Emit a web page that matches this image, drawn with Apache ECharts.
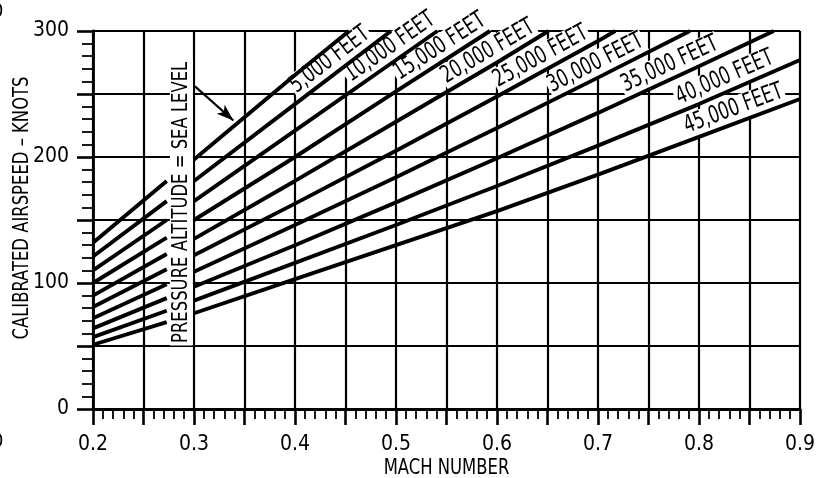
<!DOCTYPE html>
<html>
<head>
<meta charset="utf-8">
<script src="https://cdn.jsdelivr.net/npm/echarts@6/dist/echarts.min.js"></script>
<style>
html,body{margin:0;padding:0;background:#fff;}
#c{width:824px;height:478px;}
</style>
</head>
<body>
<div id="c"></div>
<script>
// ---- data (Mach number, calibrated airspeed in knots) ----
const altitudeNames = ['SEA LEVEL', '5,000 FEET', '10,000 FEET', '15,000 FEET', '20,000 FEET',
  '25,000 FEET', '30,000 FEET', '35,000 FEET', '40,000 FEET', '45,000 FEET'];
const seaLevel = [[0.2,132],[0.273,181],[0.3,198],[0.4,265],[0.4535,300]];
const ft5000  = [[0.2,121],[0.273,165],[0.3,181],[0.4,242],[0.495,300]];
const ft10000 = [[0.2,110],[0.273,150],[0.3,165],[0.4,221],[0.5,277],[0.541,300]];
const ft15000 = [[0.2,100],[0.273,136],[0.3,150],[0.4,200],[0.5,252],[0.593,300]];
const ft20000 = [[0.2,90],[0.273,123],[0.3,135],[0.4,181],[0.5,228],[0.6,275],[0.651,300]];
const ft25000 = [[0.2,81],[0.273,111],[0.3,122],[0.4,163],[0.5,205],[0.6,248],[0.7,292],[0.717,300]];
const ft30000 = [[0.2,72],[0.273,99],[0.3,109],[0.4,146],[0.5,184],[0.6,223],[0.7,263],[0.791,300]];
const ft35000 = [[0.2,64],[0.273,88],[0.3,97],[0.4,130],[0.5,164],[0.6,199],[0.7,235],[0.8,272],[0.874,300]];
const ft40000 = [[0.2,57],[0.273,78],[0.3,86],[0.4,116],[0.5,146],[0.6,177],[0.7,209],[0.8,242],[0.9,277]];
const ft45000 = [[0.2,51],[0.273,69],[0.3,76],[0.4,103],[0.5,130],[0.6,157],[0.7,186],[0.8,216],[0.9,246]];
const curves = [seaLevel, ft5000, ft10000, ft15000, ft20000, ft25000, ft30000, ft35000, ft40000, ft45000];
// Mach number where each altitude label sits along its curve (null = no label)
const labelMach = [null, 0.443, 0.502, 0.551, 0.598, 0.650, 0.704, 0.777, 0.831, 0.839];
// gap in the curves where the vertical caption sits
const gapMach = 0.2865;
const captionText = 'PRESSURE ALTITUDE = SEA LEVEL';
const captionPoint = [0.2875, 164];
const arrowFrom = [0.301, 256];
const arrowTo = [0.339, 229];
const xName = 'MACH NUMBER';
const yName = 'CALIBRATED AIRSPEED – KNOTS';
const xTicks = {min: 0.2, max: 0.9, step: 0.05};
const yTicks = {min: 0, max: 300, step: 50};

const FONT = "'DejaVu Sans Condensed', 'DejaVu Sans', sans-serif";
const chart = echarts.init(document.getElementById('c'), null, {renderer: 'canvas'});

function withGap(pts) {
  const out = [];
  pts.forEach((p, i) => {
    out.push(p);
    if (i + 1 < pts.length && p[0] < gapMach && pts[i + 1][0] > gapMach) out.push([gapMach, '-']);
  });
  return out;
}
function interp(pts, m) {
  for (let i = 0; i < pts.length - 1; i++) {
    if (m >= pts[i][0] && m <= pts[i + 1][0]) {
      const t = (m - pts[i][0]) / (pts[i + 1][0] - pts[i][0]);
      return {v: pts[i][1] + t * (pts[i + 1][1] - pts[i][1]), a: pts[i], b: pts[i + 1]};
    }
  }
  return null;
}

const lineSeries = curves.map((pts, i) => ({
  type: 'line', name: altitudeNames[i], data: withGap(pts), showSymbol: false, symbol: 'none',
  connectNulls: false, z: 5, silent: true, animation: false,
  lineStyle: {color: '#000', width: 3.9, cap: 'butt'},
  markLine: i === 0 ? {
    silent: true, animation: false, symbol: ['none', 'arrow'], symbolSize: [9, 17],
    lineStyle: {color: '#000', width: 2.2, type: 'solid'}, label: {show: false},
    data: [[{coord: arrowFrom}, {coord: arrowTo}]]
  } : undefined
}));

chart.setOption({
  animation: false,
  backgroundColor: '#fff',
  grid: {left: 93, right: 24, top: 31, bottom: 69, containLabel: false},
  xAxis: {
    type: 'value', min: xTicks.min, max: xTicks.max, interval: xTicks.step,
    axisLine: {show: true, onZero: false, lineStyle: {color: '#000', width: 2.8}},
    axisTick: {show: true, length: 16, lineStyle: {color: '#000', width: 2.6}},
    minorTick: {show: true, splitNumber: 5, length: 10, lineStyle: {color: '#000', width: 1.8}},
    splitLine: {show: true, lineStyle: {color: '#000', width: 2.2}},
    axisLabel: {
      margin: 25, fontFamily: FONT, fontSize: 21, color: '#000',
      formatter: v => (Math.round(v * 100) % 10 === 0 ? (Math.round(v * 10) / 10).toFixed(1) : '')
    }
  },
  yAxis: {
    type: 'value', min: yTicks.min, max: yTicks.max, interval: yTicks.step,
    axisLine: {show: true, onZero: false, lineStyle: {color: '#000', width: 2.8}},
    axisTick: {show: true, length: 16, lineStyle: {color: '#000', width: 2.6}},
    minorTick: {show: true, splitNumber: 5, length: 11, lineStyle: {color: '#000', width: 1.8}},
    splitLine: {show: true, lineStyle: {color: '#000', width: 2.2}},
    axisLabel: {
      margin: 24, fontFamily: FONT, fontSize: 21, color: '#000',
      formatter: v => (v % 100 === 0 ? String(v) : '')
    }
  },
  series: lineSeries
});

// text placed through the chart's own coordinate conversion
const gridRect = chart.getModel().getComponent('grid').coordinateSystem.getRect();
const texts = [];
function txt(x, y, rotDeg, s, size, squeeze, opts) {
  texts.push({
    type: 'text', x: x, y: y, rotation: rotDeg * Math.PI / 180, scaleX: squeeze, z: 2, silent: true,
    style: Object.assign({text: s, font: size + 'px ' + FONT, fill: '#000', align: 'center', verticalAlign: 'middle'}, opts || {})
  });
}
curves.forEach((pts, i) => {
  const m = labelMach[i];
  if (m == null) return;
  const r = interp(pts, m);
  const p = chart.convertToPixel({gridIndex: 0}, [m, r.v]);
  const pa = chart.convertToPixel({gridIndex: 0}, r.a);
  const pb = chart.convertToPixel({gridIndex: 0}, r.b);
  const ang = Math.atan2(pa[1] - pb[1], pb[0] - pa[0]) * 180 / Math.PI;
  txt(p[0], p[1], ang, altitudeNames[i], 24, 0.77, {verticalAlign: 'bottom', backgroundColor: '#fff', padding: [0, 2, 2, 2]});
});
const cp = chart.convertToPixel({gridIndex: 0}, captionPoint);
txt(cp[0], cp[1], 90, captionText, 22, 0.83, {backgroundColor: '#fff', padding: [1, 3, 0, 3]});
txt(gridRect.x + gridRect.width / 2, gridRect.y + gridRect.height + 59, 0, xName, 22, 0.83);
txt(gridRect.x - 71, gridRect.y + gridRect.height / 2 - 12, 90, yName, 22, 0.83);
texts.push({type: 'text', left: -8, top: 2, z: 2, style: {text: '0', font: '20px ' + FONT, fill: '#000'}});
texts.push({type: 'text', left: -8, top: 432, z: 2, style: {text: '0', font: '20px ' + FONT, fill: '#000'}});

chart.setOption({graphic: texts});
</script>
</body>
</html>
